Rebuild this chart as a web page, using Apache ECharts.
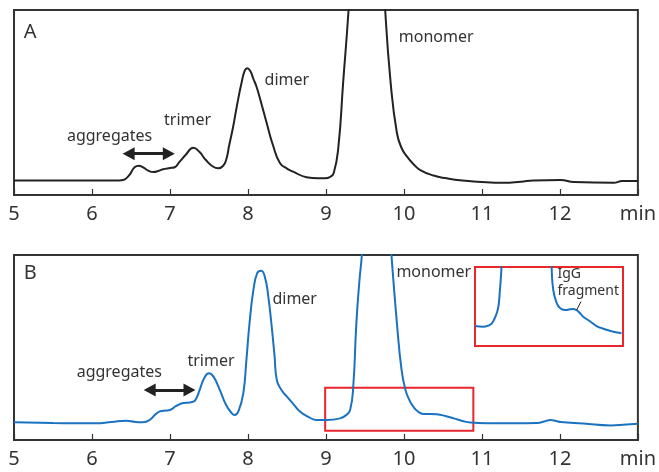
<!DOCTYPE html>
<html>
<head>
<meta charset="utf-8">
<script src="https://cdn.jsdelivr.net/npm/echarts@6/dist/echarts.min.js"></script>
<style>
  html, body { margin: 0; padding: 0; background: #fff; }
  #chart { width: 659px; height: 472px; }
</style>
</head>
<body>
<div id="chart"></div>
<script>
// Retention time axis (min) and its tick labels
const xTickValues = [5, 6, 7, 8, 9, 10, 11, 12, 13];
const xTickLabels = ['5', '6', '7', '8', '9', '10', '11', '12', 'min'];

// Chromatogram A (detector signal, relative units; monomer peak runs off scale)
const timeA = [5.0, 6.0, 6.35, 6.40, 6.47, 6.55, 6.60, 6.65, 6.72, 6.79, 6.85, 6.91, 7.00, 7.06,
  7.12, 7.20, 7.30, 7.38, 7.46, 7.55, 7.62, 7.68, 7.72, 7.76, 7.81, 7.86, 7.92, 7.96, 7.99,
  8.03, 8.07, 8.11, 8.17, 8.24, 8.32, 8.41, 8.50, 8.58, 8.75, 8.90, 8.99, 9.05, 9.10, 9.16,
  9.22, 9.29, 9.36, 9.45, 9.55, 9.65, 9.72, 9.76, 9.83, 9.91, 9.97, 10.04, 10.12, 10.21,
  10.38, 10.55, 10.75, 10.94, 11.28, 11.50, 11.66, 12.01, 12.18, 12.69, 12.80, 13.0];
const signalA = [7.9, 7.9, 7.9, 8.1, 10.3, 15.1, 15.8, 15.1, 13.2, 12.4, 13.0, 13.9, 14.6, 15.0,
  17.8, 21.6, 25.6, 23.2, 18.9, 15.4, 14.4, 15.7, 18.9, 27.0, 36.9, 48.6, 61.1, 67.3, 68.5,
  67.0, 62.7, 58.5, 49.7, 38.9, 27.0, 17.3, 14.3, 12.6, 9.6, 9.0, 9.0, 9.7, 11.9, 26.1,
  60.5, 100, 150, 200, 210, 190, 140, 100, 60.5, 33.5, 25.4, 20.7, 16.8, 13.5,
  10.5, 9.0, 7.8, 7.2, 6.6, 7.2, 7.9, 8.1, 7.0, 6.6, 7.6, 7.6];

// Chromatogram B
const timeB = [5.0, 5.5, 6.05, 6.25, 6.44, 6.55, 6.65, 6.74, 6.82, 6.89, 6.95, 7.00, 7.08, 7.17,
  7.25, 7.30, 7.34, 7.38, 7.44, 7.50, 7.56, 7.64, 7.72, 7.79, 7.83, 7.88, 7.94, 7.98, 8.02,
  8.07, 8.12, 8.17, 8.22, 8.26, 8.30, 8.34, 8.37, 8.43, 8.50, 8.58, 8.67, 8.78, 8.88, 9.01,
  9.18, 9.26, 9.31, 9.35, 9.39, 9.43, 9.46, 9.52, 9.62, 9.72, 9.79, 9.84, 9.91, 9.97, 10.02,
  10.07, 10.12, 10.18, 10.25, 10.33, 10.42, 10.53, 10.64, 10.75, 10.85, 11.06, 11.40, 11.71,
  11.80, 11.88, 11.95, 12.01, 12.30, 12.65, 12.85, 13.0];
const signalB = [9.6, 9.2, 9.0, 9.7, 10.4, 9.8, 9.6, 10.8, 14.1, 15.7, 15.9, 16.2, 18.4, 20.0,
  20.3, 20.7, 22.7, 27.0, 33.5, 36.1, 34.1, 27.0, 18.9, 14.6, 13.5, 15.7, 25.2, 43.2, 63.1,
  81.1, 90.3, 91.5, 87.6, 77.8, 63.1, 45.9, 32.4, 27.0, 23.4, 19.5, 15.3, 12.4, 10.8, 10.8,
  11.7, 13.5, 16.2, 28.8, 63.2, 86.5, 100, 150, 190, 170, 130, 100, 63.2, 37.8, 27.0,
  21.6, 18.0, 15.4, 14.1, 14.1, 13.9, 13.0, 11.7, 10.3, 9.4, 9.0, 9.0, 9.2,
  10.0, 10.8, 10.3, 9.7, 8.9, 7.9, 8.4, 8.8];

// Enlarged view of B between 9 and 10.9 min (expanded signal scale)
const zoomWindow = [8.99, 10.89];
const zoomSignalRange = [5.0, 28.3];
const insetTime = [8.99, 9.10, 9.18, 9.22, 9.26, 9.29, 9.31, 9.32, 9.33, 9.40, 9.65, 9.90, 9.974,
  9.995, 10.04, 10.08, 10.145, 10.21, 10.25, 10.29, 10.33, 10.38, 10.47, 10.55, 10.63, 10.72,
  10.80, 10.87];
const insetSignal = [25.3, 24.4, 26.6, 30.8, 39.2, 49.7, 70.9, 83.5, 100, 300, 400, 300, 100,
  70.9, 54.1, 48.1, 45.6, 46.5, 46.8, 45.6, 42.4, 37.1, 31.0, 25.3, 22.2, 19.4,
  17.3, 16.1];

const INK = '#222';
const BLUE = '#1a72c0';
const RED = '#e8262c';
const FONT = '"Noto Sans", "Noto Sans CJK JP", sans-serif';

function pairs(xs, ys) { return xs.map((x, i) => [x, ys[i]]); }

function textMark(name, t, v, size) {
  return {
    name: name, coord: [t, v], symbol: 'circle', symbolSize: 1,
    itemStyle: { color: 'rgba(0,0,0,0)' },
    label: {
      show: true, formatter: '{b}', position: [0, 0], align: 'left', verticalAlign: 'middle',
      color: '#333', fontFamily: FONT, fontSize: size || 16, lineHeight: 17
    }
  };
}

function arrowLine(t0, t1, v) {
  return [{ coord: [t0, v] }, { coord: [t1, v] }];
}

const arrowStyle = {
  silent: true, symbol: ['triangle', 'triangle'], symbolSize: [13, 12],
  lineStyle: { color: INK, width: 3, type: 'solid' }, label: { show: false }
};

function timeAxis(gridIndex) {
  return {
    type: 'value', gridIndex: gridIndex, min: 5, max: 13, interval: 1,
    axisLine: { show: true, lineStyle: { color: '#333', width: 2 } },
    axisTick: { show: true, inside: true, length: 6, lineStyle: { color: '#333', width: 1.2 } },
    splitLine: { show: false },
    axisLabel: {
      margin: 9, color: '#333', fontFamily: FONT, fontSize: 20,
      formatter: v => xTickLabels[xTickValues.indexOf(v)]
    }
  };
}

const traceLine = { showSymbol: false, smooth: 0.5, clip: true };

const chart = echarts.init(document.getElementById('chart'), null, { renderer: 'canvas' });
chart.setOption({
  animation: false,
  backgroundColor: '#fff',
  grid: [
    { left: 14, top: 10, width: 625, height: 185, show: true, borderColor: '#333', borderWidth: 2 },
    { left: 14, top: 255, width: 625, height: 185, show: true, borderColor: '#333', borderWidth: 2 },
    { left: 475, top: 267, width: 148, height: 79, show: true, borderColor: RED, borderWidth: 2,
      backgroundColor: '#fff' }
  ],
  xAxis: [
    timeAxis(0),
    timeAxis(1),
    { type: 'value', gridIndex: 2, min: zoomWindow[0], max: zoomWindow[1], show: false }
  ],
  yAxis: [
    { type: 'value', gridIndex: 0, min: 0, max: 100, show: false },
    { type: 'value', gridIndex: 1, min: 0, max: 100, show: false },
    { type: 'value', gridIndex: 2, min: 0, max: 100, show: false }
  ],
  series: [
    Object.assign({
      type: 'line', xAxisIndex: 0, yAxisIndex: 0, data: pairs(timeA, signalA),
      lineStyle: { color: INK, width: 2 },
      markPoint: {
        silent: true,
        data: [
          textMark('A', 5.13, 87.6, 20),
          textMark('aggregates', 5.685, 31.4),
          textMark('trimer', 6.93, 40.0),
          textMark('dimer', 8.22, 61.6),
          textMark('monomer', 9.94, 84.9)
        ]
      },
      markLine: Object.assign({ data: [arrowLine(6.47, 6.985, 22.3)] }, arrowStyle)
    }, traceLine),
    Object.assign({
      type: 'line', xAxisIndex: 1, yAxisIndex: 1, data: pairs(timeB, signalB),
      lineStyle: { color: BLUE, width: 2 },
      markPoint: {
        silent: true,
        data: [
          textMark('B', 5.13, 89.7, 20),
          textMark('aggregates', 5.81, 36.4),
          textMark('trimer', 7.23, 42.3),
          textMark('dimer', 8.32, 75.7),
          textMark('monomer', 9.91, 90.4)
        ]
      },
      markLine: Object.assign({ data: [arrowLine(6.74, 7.25, 27.0)] }, arrowStyle),
      markArea: {
        silent: true,
        itemStyle: { color: 'rgba(0,0,0,0)', borderColor: RED, borderWidth: 2 },
        data: [[{ coord: [zoomWindow[0], zoomSignalRange[0]] }, { coord: [zoomWindow[1], zoomSignalRange[1]] }]]
      }
    }, traceLine),
    Object.assign({
      type: 'line', xAxisIndex: 2, yAxisIndex: 2, data: pairs(insetTime, insetSignal),
      lineStyle: { color: BLUE, width: 2 },
      markPoint: {
        silent: true,
        data: [textMark('IgG\nfragment', 10.055, 79.1, 14)]
      },
      markLine: {
        silent: true, symbol: ['none', 'none'], label: { show: false },
        lineStyle: { color: INK, width: 1, type: 'solid' },
        data: [[{ coord: [10.295, 45.6] }, { coord: [10.35, 56.1] }]]
      }
    }, traceLine)
  ]
});
</script>
</body>
</html>
